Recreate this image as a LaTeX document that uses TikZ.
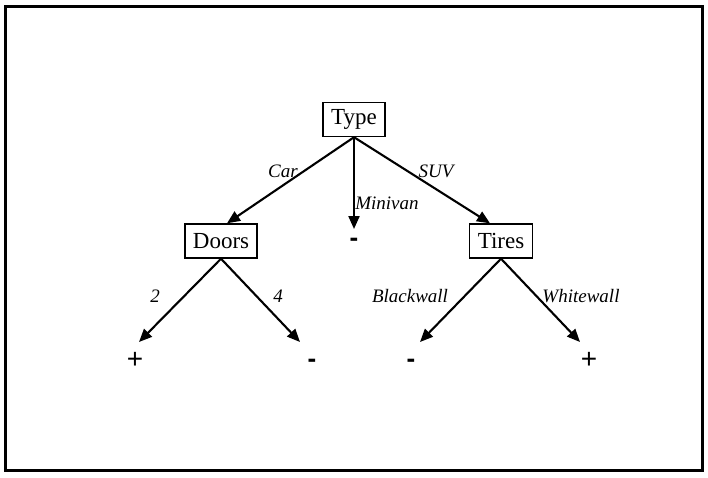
\documentclass[tikz,border=0pt]{standalone}
\usepackage{fontspec}
\setmainfont{Liberation Serif}
\newfontfamily\leaffont{Liberation Sans}
\usetikzlibrary{arrows.meta}

\tikzset{
  test/.style={draw, line width=1.4pt, inner xsep=8pt, minimum height=34pt, font=\fontsize{23}{23}\selectfont},
  branch/.style={line width=2.1pt, -{Triangle[length=13pt, width=11pt]}},
  edgelabel/.style={font=\fontsize{19}{19}\selectfont\itshape, inner sep=0pt},
  leaf/.style={font=\leaffont\fontsize{28}{28}\selectfont, inner sep=0pt},
  dash leaf/.style={leaf, font=\leaffont\bfseries\fontsize{26}{26}\selectfont}
}

\begin{document}
\begin{tikzpicture}[x=1pt, y=-1pt]
        \useasboundingbox (0,0) rectangle (708,477);
        % Frame
        \draw[line width=3pt] (5,6) rectangle (702,470);
        % Tests
        \node[test] (type) at (354,119.5) {Type};
        \node[test] (doors) at (221,241) {Doors};
        \node[test] (tires) at (501,241) {Tires};
        % Leaves
        \node[dash leaf] (minus0) at (354,242) {-};
        \node[leaf] (plus1) at (135,360) {+};
        \node[dash leaf] (minus1) at (312,363) {-};
        \node[dash leaf] (minus2) at (411,363) {-};
        \node[leaf] (plus2) at (589,360) {+};
        % Arrow tips
        \coordinate (tip0) at (354,229);
        \coordinate (tip1) at (139,342);
        \coordinate (tip2) at (300,342);
        \coordinate (tip3) at (420,342);
        \coordinate (tip4) at (580,342);
        % Branches
        \draw[branch] (type.south) -- ([xshift=6pt]doors.north);
        \draw[branch] (type.south) -- (tip0);
        \draw[branch] (type.south) -- ([xshift=-11pt]tires.north);
        \draw[branch] (doors.south) -- (tip1);
        \draw[branch] (doors.south) -- (tip2);
        \draw[branch] (tires.south) -- (tip3);
        \draw[branch] (tires.south) -- (tip4);
        % Branch labels
        \node[edgelabel] (lcar) at (283,171) {Car};
        \node[edgelabel] (lminivan) at (387,203) {Minivan};
        \node[edgelabel] (lsuv) at (436,171) {SUV};
        \node[edgelabel] (ltwo) at (155,296) {2};
        \node[edgelabel] (lfour) at (278,296) {4};
        \node[edgelabel] (lblack) at (410,296) {Blackwall};
        \node[edgelabel] (lwhite) at (581,296) {Whitewall};
    \end{tikzpicture}
\end{document}
